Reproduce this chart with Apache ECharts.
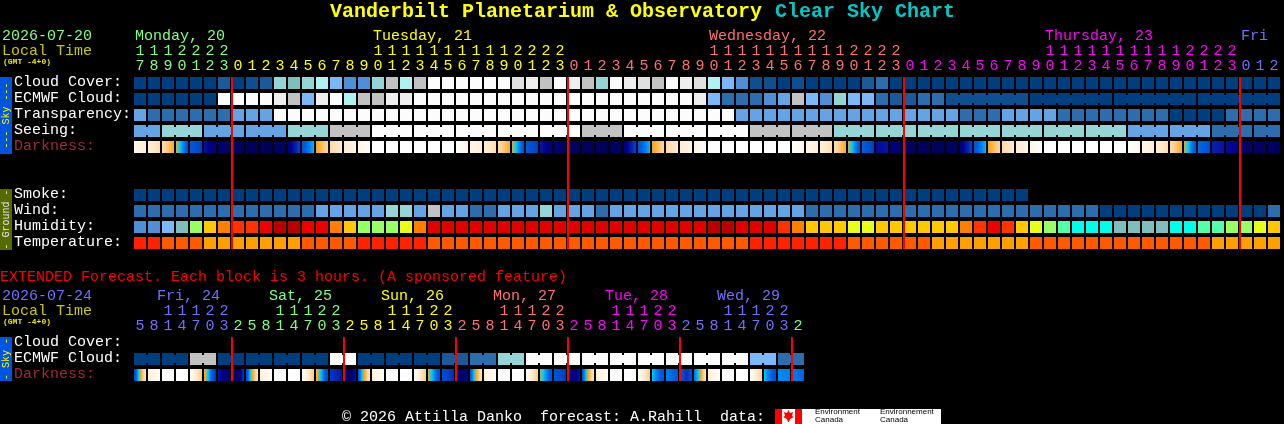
<!DOCTYPE html>
<html><head><meta charset="utf-8">
<style>html,body{margin:0;padding:0;background:#000;overflow:hidden}#c{width:1284px;height:424px}</style>
<script src="https://cdn.jsdelivr.net/npm/echarts@6/dist/echarts.min.js"></script>
</head><body><div id="c"></div>
<script>
// ---------- data ----------
const rowNames = ['Cloud Cover:','ECMWF Cloud:','Transparency:','Seeing:','Darkness:',' ','  ','Smoke:','Wind:','Humidity:','Temperature:'];
const extRowNames = ['Cloud Cover:','ECMWF Cloud:','Darkness:'];
const mainHours = [17,18,19,20,21,22,23,0,1,2,3,4,5,6,7,8,9,10,11,12,13,14,15,16,17,18,19,20,21,22,23,0,1,2,3,4,5,6,7,8,9,10,11,12,13,14,15,16,17,18,19,20,21,22,23,0,1,2,3,4,5,6,7,8,9,10,11,12,13,14,15,16,17,18,19,20,21,22,23,0,1,2];
const extHours = [5,8,11,14,17,20,23,2,5,8,11,14,17,20,23,2,5,8,11,14,17,20,23,2,5,8,11,14,17,20,23,2,5,8,11,14,17,20,23,2,5,8,11,14,17,20,23,2];
const mainMidnights = [7,31,55,79];
const extMidnights = [7,15,23,31,39,47];
const mainDayColors = ['#80FF80','#FFFF00','#FF7070','#FF00FF','#7070FF'];
const extDayColors = ['#7070FF','#80FF80','#FFFF00','#FF7070','#FF00FF','#7070FF','#80FF80'];
const mainDays = [[0,'Monday, 20',0],[17,'Tuesday, 21',1],[41,'Wednesday, 22',2],[65,'Thursday, 23',3],[79,'Fri',4]];
const extDays = [[1,'Fri, 24',0],[9,'Sat, 25',1],[17,'Sun, 26',2],[25,'Mon, 27',3],[33,'Tue, 28',4],[41,'Wed, 29',5]];

const skyPalette = ['#003F7F','#0F4F8F','#1A5A9A','#2C6DAD','#4F8FD6','#64A4E4','#7AB8F8','#80BEBE','#95D5D5','#AEF2F2','#C2C2C2','#E0E0E0','#EEEEEE','#FCFCFC'];
const humidityPalette = ['#4F8FD6','#7AB8F8','#80BEBE','#00FFE8','#55FFAA','#99FF66','#E8FF1A','#FFC800','#FF8000','#FF3300','#EE0000','#E00000','#B80000'];
const temperaturePalette = ['#FF2200','#FF5A00','#FFA000'];

const cloud = [0,0,0,0,0,0,2,0,1,2, 8,7,8,9,6,4,4,8,10,9, 10,13,13,13,13,13,13,11,12,10, 13,12,10,8,13,12,11,10,13,12, 11,9,6,4,1,1,0,1,0,0, 0,0,2,3,0,0,0,0,0,0, 0,0,0,0,0,0,0,0,0,0, 0,0,0,0,0,0,0,0,0,0, 0,0];
const ecmwf = [0,0,0,0,0,0,13,13,13,13, 12,10,6,12,13,9,10,10,12,12, 13,13,13,13,13,13,13,13,13,13, 13,13,13,13,13,13,13,13,13,13, 12,6,3,3,3,4,5,10,6,4, 8,6,6,3,2,2,3,3,1,1, 1,1,1,1,0,0,0,0,0,0, 0,0,0,0,0,0,0,0,0,0, 0,0];
const ecmwfBlocks = [[58,6],[64,6],[70,6],[76,6]];
const transparency = [5,3,3,3,3,3,3,5,5,5, 13,13,13,13,13,13,13,13,13,13, 13,13,13,13,13,13,13,13,13,13, 13,13,13,13,13,13,13,13,13,13, 13,13,13,5,5,5,5,5,5,5, 5,5,5,5,5,5,5,5,5,3, 3,3,5,5,5,5,3,3,3,3, 3,3,3,3,0,0,0,0,3,3, 3,3];
const seeing = [5,5,8,8,8,5,5,5,5,5, 5,8,8,8,10,10,10,13,13,13, 13,13,13,13,13,13,13,13,13,13, 13,13,10,10,10,13,13,13,13,13, 13,13,13,13,10,10,10,10,10,10, 8,8,8,8,8,8,8,8,8,8, 8,8,8,8,8,8,8,8,8,8, 8,5,5,5,5,5,5,3,3,3, 3,3];
const seeingBlocks = [[0,2],[2,3],[5,3],[8,3],[11,3],[14,3],[17,3],[20,3],[23,3],[26,3],[29,3],[32,3],[35,3],[38,3],[41,3],[44,3],[47,3],[50,3],[53,3],[56,3],[59,3],[62,3],[65,3],[68,3],[71,3],[74,3],[77,3],[80,2]];
const smoke = [0,0,0,0,0,0,0,0,0,0, 0,0,0,0,0,0,0,0,0,0, 0,0,0,0,0,0,0,0,0,0, 0,0,0,0,0,0,0,0,0,0, 0,0,0,0,0,0,0,0,0,0, 0,0,0,0,0,0,0,0,0,0, 0,0,0,0];
const wind = [3,3,3,3,3,3,3,3,3,3, 3,3,3,5,5,5,5,5,8,8, 5,10,5,5,3,3,5,5,5,8, 5,5,5,3,5,5,5,5,5,5, 5,5,5,5,5,5,5,5,3,3, 3,3,3,3,3,3,3,3,3,3, 3,3,3,3,3,3,3,3,3,0, 0,0,0,0,0,0,0,0,0,0, 0,3];
const humidity = [0,0,1,2,5,7,8,9,9,10, 12,12,10,10,8,7,5,5,5,6, 8,11,11,11,11,11,11,11,11,11, 11,11,11,11,11,11,11,11,11,11, 11,12,12,11,11,11,9,8,7,7, 7,6,6,7,7,7,7,7,7,8, 9,10,9,7,6,5,4,3,3,3, 2,2,2,2,3,3,4,4,5,5, 6,7];
const temperature = [0,0,1,1,1,2,2,2,2,2, 2,2,1,1,1,1,0,0,0,0, 0,1,1,1,1,1,1,1,1,1, 1,1,1,1,1,1,1,1,1,1, 1,1,1,1,0,0,0,0,0,0, 0,1,1,1,1,1,1,2,2,2, 2,2,2,2,1,1,1,1,1,1, 1,1,1,1,1,1,1,2,2,2, 2,2];

// darkness: level sampled across each block (0 = daylight, 10 = darkest night)
const darknessStops = [[0,'#FFFFFF'],[1,'#FFF6E8'],[2,'#FFE8C8'],[3,'#FFD090'],[4,'#FFA820'],[5,'#00C8F8'],[5.5,'#0088F0'],[6,'#0060E0'],[6.8,'#0048C8'],[7.5,'#0818A8'],[8,'#00008C'],[9,'#000068'],[10,'#000058']];
const darkness = [[1,1.5],[1.5,2.5],[2.5,4],[4.2,6.4],[6.2,7],[7.6,8.6],[8.8,9.2],[9.4,9.6],[9.7,9.8],[9.8,9.9],[9.7,9.6],[8.4,6.8],[6.4,5.1],[4.2,2.8],[2.6,1.8],[1.8,1.1],[1,0.4],[0,0],[0,0],[0,0],[0,0],[0,0],[0,0],[0,1],[1,1.5],[1.5,2.5],[2.5,4],[4.2,6.4],[6.2,7],[7.6,8.4],[8.8,9.2],[9.4,9.6],[9.7,9.8],[9.7,9.8],[9.7,9.6],[8.4,6.8],[6.4,5.1],[4.2,2.8],[2.6,1.8],[1.8,1.1],[1,0.3],[0,0],[0,0],[0,0],[0,0],[0,0],[0,0],[0,1],[1,1.5],[1.5,2.5],[2.5,4],[4.2,6.4],[6,7],[7.8,7.6],[8.5,8.9],[9.4,9.4],[9.6,9.6],[9.6,9.6],[9.6,9.5],[8.4,6.8],[6.4,5.1],[4.2,2.8],[2.6,1.8],[1.8,1.1],[1,0.3],[0,0],[0,0],[0,0],[0,0],[0,0],[0,0],[0,1],[1,1.5],[1.5,2.5],[2.5,4],[4.2,6.4],[5.8,6.6],[7.4,7.6],[7.8,8],[9,9.2],[9.4,9.4],[9.4,9.4]];
const extEcmwf = [0,0,0,0,10,10,0,0,0,0, 0,0,0,0,13,13,0,0,0,0, 0,0,2,2,3,3,8,8,13,13, 13,13,13,13,13,13,13,13,13,13, 13,13,13,13,6,6,3,3];
const extBlocks = [[0,2],[2,2],[4,2],[6,2],[8,2],[10,2],[12,2],[14,2],[16,2],[18,2],[20,2],[22,2],[24,2],[26,2],[28,2],[30,2],[32,2],[34,2],[36,2],[38,2],[40,2],[42,2],[44,2],[46,2]];
const extDarkness = [[6.8,2],[1.5,0.5],[0,0],[0,0],[0.3,3.2],[3.8,7.2],[7.6,8.8],[9.4,9.2,6.8],[6.6,2],[1.5,0.5],[0,0],[0,0],[0.3,3.2],[3.8,6.8],[7,7.6],[9.2,9,7.5],[6.4,2],[1.5,0.4],[0,0],[0,0],[0.3,3.2],[4.2,6.6],[6.6,7.2],[8,9,8.2],[6.4,2],[1.5,0.4],[0,0],[0,0],[0.3,3.2],[4.4,6.4],[6.4,7],[7.8,8.6,7.5],[6.4,2],[1.5,0.4],[0,0],[0,0],[0.3,3.2],[5,6.5],[5.6,6.2],[6,7.2,6.5],[5.8,5,3.8,2],[1.5,0.4],[0,0],[0,0],[0.3,3],[5,6.6],[5.5,5.6],[5.6,6]];

// ---------- helpers ----------
const MONO = '"Liberation Mono", monospace';
const hexRgb = h => [1,3,5].map(i => parseInt(h.substr(i,2),16));
function darkColor(v){
  for(let i=1;i<darknessStops.length;i++){
    const [a,ca]=darknessStops[i-1],[b,cb]=darknessStops[i];
    if(v<=b){const t=(v-a)/(b-a),p=hexRgb(ca),q=hexRgb(cb);
      return 'rgb('+p.map((x,k)=>Math.round(x+(q[k]-x)*t)).join(',')+')';}
  }
  return darknessStops[darknessStops.length-1][1];
}
function sample(stops,t){
  const s=t*(stops.length-1),i=Math.min(Math.floor(s),stops.length-2);
  return stops[i]+(stops[i+1]-stops[i])*(s-i);
}
function joinSet(blocks){
  const set=new Set();
  blocks.forEach(([s,n])=>{for(let c=s;c<s+n-1;c++)set.add(c);});
  return set;
}
function rowData(values,row,blocks){
  const j=joinSet(blocks||[]);
  return values.map((v,c)=>[c,row,v,j.has(c)?1:0]);
}
const flat = fill => ({fill,stroke:'none',lineWidth:0});
function cellSeries(data,palette,ax,name){
  return {type:'custom',name,xAxisIndex:ax.x,yAxisIndex:ax.y,data,silent:true,
    encode:{x:0,y:1},
    renderItem(p,api){
      const c=api.coord([api.value(0),api.value(1)]);
      const fill=palette[api.value(2)];
      const kids=[{type:'rect',shape:{x:c[0]-6,y:c[1]-6,width:12,height:12},style:flat(fill)}];
      if(api.value(3))kids.push({type:'rect',shape:{x:c[0]+6,y:c[1]-4,width:2,height:8},style:flat(fill)});
      return {type:'group',children:kids};
    }};
}
function darkSeries(values,row,ax){
  return {type:'custom',name:'Darkness',xAxisIndex:ax.x,yAxisIndex:ax.y,silent:true,
    data:values.map((v,c)=>[c,row]),encode:{x:0,y:1},
    renderItem(p,api){
      const col=api.value(0),c=api.coord([col,api.value(1)]),stops=values[col],kids=[];
      for(let i=0;i<12;i++)
        kids.push({type:'rect',shape:{x:c[0]-6+i,y:c[1]-6,width:1,height:12},style:flat(darkColor(sample(stops,(i+0.5)/12)))});
      return {type:'group',children:kids};
    }};
}
function midnightSeries(cols,lastRow,ax){
  return {type:'custom',name:'Midnight',xAxisIndex:ax.x,yAxisIndex:ax.y,silent:true,
    data:cols.map(c=>[c,0]),encode:{x:0,y:1},z:20,
    renderItem(p,api){
      const a=api.coord([api.value(0),0]),b=api.coord([api.value(0),lastRow]);
      return {type:'rect',z2:100,shape:{x:a[0]-7,y:a[1]-6,width:2,height:b[1]-a[1]+12},style:flat('#FF0000')};
    }};
}
function daySeries(days,colors,offset,y,ax){
  return {type:'custom',name:'Days',xAxisIndex:ax.x,yAxisIndex:ax.y,silent:true,
    data:days.map(d=>[d[0],0]),encode:{x:0,y:1},
    renderItem(p,api){
      const d=days[p.dataIndex],c=api.coord([d[0],0]);
      return {type:'text',style:{x:c[0]+offset,y,text:d[1],fill:colors[d[2]],font:'15px '+MONO,align:'left',verticalAlign:'middle'}};
    }};
}
const dayIndex=(col,mid)=>mid.filter(m=>m<=col).length;
function hourAxis(gridIndex,hours,mid,colors,tens,margin){
  return {type:'category',gridIndex,position:'top',data:hours.map((h,i)=>'c'+i),
    axisLine:{show:false},axisTick:{show:false},splitLine:{show:false},
    axisLabel:{show:true,interval:0,margin,hideOverlap:false,fontFamily:MONO,fontSize:15,
      formatter(v,i){const h=hours[i];return tens?(h>=10?String(Math.floor(h/10)):''):String(h%10);},
      color(v,i){return colors[dayIndex(i,mid)];}}};
}
function rowAxis(gridIndex,names,margin){
  return {type:'category',gridIndex,inverse:true,data:names,
    axisLine:{show:false},axisTick:{show:false},splitLine:{show:false},
    axisLabel:{show:true,interval:0,margin,align:'left',verticalAlign:'middle',fontFamily:MONO,fontSize:15,
      formatter(v){return '{'+(v==='Darkness:'?'d':'w')+'|'+v+'}';},
      rich:{w:{color:'#FFFFFF',fontFamily:MONO,fontSize:15,padding:[0,0,2,0],align:'left'},
            d:{color:'#A52A2A',fontFamily:MONO,fontSize:15,padding:[0,0,2,0],align:'left'}}}};
}
function txt(x,y,text,fill,size,weight){
  return {type:'text',silent:true,x,y,style:{text,fill,font:(weight?weight+' ':'')+size+'px '+MONO,textAlign:'left',textVerticalAlign:'middle'}};
}
function vtxt(cx,cy,text,fill){
  return {type:'text',silent:true,x:cx,y:cy,rotation:Math.PI/2,style:{text,fill,font:'10px '+MONO,textAlign:'center',textVerticalAlign:'middle'}};
}
function box(x,y,w,h,fill){return {type:'rect',silent:true,shape:{x,y,width:w,height:h},style:{fill}};}

const main={x:0,y:0}, ext={x:2,y:1};
const chart=echarts.init(document.getElementById('c'));
chart.setOption({
  backgroundColor:'#000',animation:false,tooltip:{show:false},legend:{show:false},
  grid:[{left:133,top:75,width:1148,height:176,containLabel:false},{left:133,top:335,width:672,height:48,containLabel:false}],
  xAxis:[hourAxis(0,mainHours,mainMidnights,mainDayColors,false,1),hourAxis(0,mainHours,mainMidnights,mainDayColors,true,16),
         hourAxis(1,extHours,extMidnights,extDayColors,false,1),hourAxis(1,extHours,extMidnights,extDayColors,true,16)],
  yAxis:[rowAxis(0,rowNames,119),rowAxis(1,extRowNames,119)],
  series:[
    cellSeries(rowData(cloud,0),skyPalette,main,'Cloud Cover'),
    cellSeries(rowData(ecmwf,1,ecmwfBlocks),skyPalette,main,'ECMWF Cloud'),
    cellSeries(rowData(transparency,2),skyPalette,main,'Transparency'),
    cellSeries(rowData(seeing,3,seeingBlocks),skyPalette,main,'Seeing'),
    darkSeries(darkness,4,main),
    cellSeries(rowData(smoke,7),skyPalette,main,'Smoke'),
    cellSeries(rowData(wind,8),skyPalette,main,'Wind'),
    cellSeries(rowData(humidity,9),humidityPalette,main,'Humidity'),
    cellSeries(rowData(temperature,10),temperaturePalette,main,'Temperature'),
    daySeries(mainDays,mainDayColors,-5,36,main),
    cellSeries(rowData(extEcmwf,1,extBlocks),skyPalette,ext,'Ext ECMWF'),
    darkSeries(extDarkness,2,ext),
    daySeries(extDays,extDayColors,3,296,ext),
    midnightSeries(mainMidnights,10,main),
    midnightSeries(extMidnights,2,ext)
  ],
  graphic:[
    txt(330,12,'Vanderbilt Planetarium & Observatory','#FFFF00',20,'bold'),
    txt(775,12,'Clear Sky Chart','#00C8C8',20,'bold'),
    txt(2,36,'2026-07-20','#80FF80',15),
    txt(2,51,'Local Time','#C8C800',15),
    txt(3,62,'(GMT -4+0)','#E8E800',8,'bold'),
    txt(0,277,'EXTENDED Forecast. Each block is 3 hours. (A sponsored feature)','#FF0000',15),
    txt(2,296,'2026-07-24','#7070FF',15),
    txt(2,311,'Local Time','#C8C800',15),
    txt(3,322,'(GMT -4+0)','#E8E800',8,'bold'),
    box(0,77,12,77,'#0055E0'), vtxt(6,115.5,'--- Sky ---','#FFFF00'),
    box(0,189,12,61,'#556B00'), vtxt(6,219.5,'- Ground -','#E8E8E8'),
    box(0,337,12,44,'#0055E0'), vtxt(6,359,'- Sky -','#FFFF00'),
    txt(342,417,'\u00A9 2026 Attilla Danko  forecast: A.Rahill  data:','#FFFFFF',15),
    box(775,409,166,15,'#FFFFFF'), box(775,409,7,15,'#FF0000'), box(795,409,7,15,'#FF0000'),
    {type:'polygon',silent:true,shape:{points:[[788.5,410],[790,413],[793,412],[792,416],[794,417],[790,419],[789,422],[788,422],[787,419],[783,417],[785,416],[784,412],[787,413]]},style:{fill:'#FF0000'}},
    {type:'text',silent:true,x:815,y:412,style:{text:'Environment',fill:'#000',font:'8px "Liberation Sans"',textVerticalAlign:'middle'}},
    {type:'text',silent:true,x:815,y:420,style:{text:'Canada',fill:'#000',font:'8px "Liberation Sans"',textVerticalAlign:'middle'}},
    {type:'text',silent:true,x:880,y:412,style:{text:'Environnement',fill:'#000',font:'8px "Liberation Sans"',textVerticalAlign:'middle'}},
    {type:'text',silent:true,x:880,y:420,style:{text:'Canada',fill:'#000',font:'8px "Liberation Sans"',textVerticalAlign:'middle'}}
  ]
});
</script></body></html>
